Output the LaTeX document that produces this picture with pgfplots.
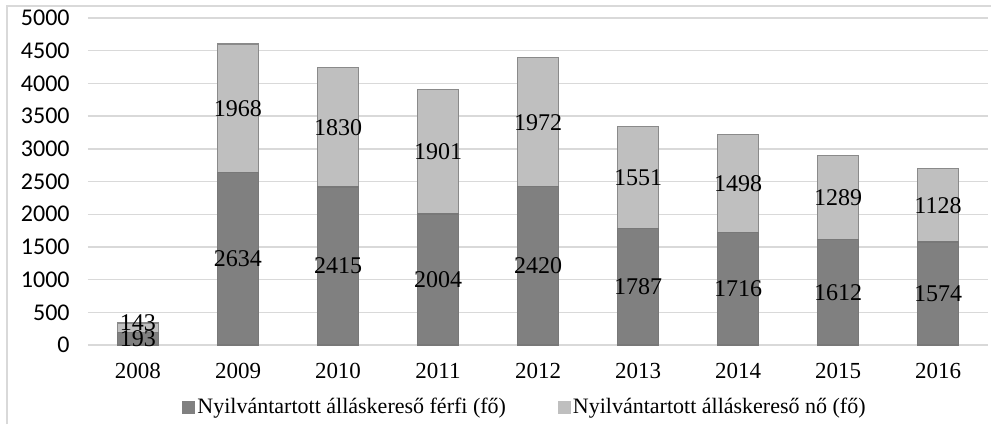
\documentclass[border=0pt]{standalone}
\usepackage{fontspec}
\setmainfont{Liberation Serif}
\newfontfamily\carlito{Carlito}
\usepackage{pgfplots}
\usepackage{pgfplotstable}
\pgfplotsset{compat=1.18}
\definecolor{malec}{HTML}{808080}
\definecolor{malee}{HTML}{787878}
\definecolor{femc}{HTML}{BFBFBF}
\definecolor{feme}{HTML}{8A8A8A}
\definecolor{gridc}{HTML}{D9D9D9}
\definecolor{framec}{HTML}{D9D9D9}
\pgfplotstableread{
x male female
0 193 143
1 2634 1968
2 2415 1830
3 2004 1901
4 2420 1972
5 1787 1551
6 1716 1498
7 1612 1289
8 1574 1128
}\datatab
\begin{document}
\begin{tikzpicture}
\path[use as bounding box] (-44pt,-39.5pt) rectangle (451.5pt,172.5pt);
\begin{axis}[
  ybar stacked,
  bar width=20.5pt,
  scale only axis,
  width=450pt, height=163.5pt,
  xmin=-0.5, xmax=8.5, ymin=0, ymax=5000,
  ytick={0,500,...,5000},
  xtick={0,...,8},
  xticklabels={2008,2009,2010,2011,2012,2013,2014,2015,2016},
  ymajorgrids,
  grid style={draw=gridc, line width=0.7pt},
  axis line style={draw=none},
  major tick length=0pt,
  yticklabel style={font=\carlito\fontsize{12}{14}\selectfont, inner sep=0pt, xshift=-9pt,
    /pgf/number format/assume math mode=true, /pgf/number format/1000 sep={}},
  xticklabel style={font=\fontsize{11.5}{13}\selectfont, inner sep=0pt, yshift=-9pt},
  point meta=rawy,
  nodes near coords,
  every node near coord/.append style={anchor=center, inner sep=0pt,
    font=\fontsize{12}{14}\selectfont, text=black,
    /pgf/number format/assume math mode=true, /pgf/number format/1000 sep={}},
  legend style={at={(0.4856,-0.19)}, anchor=center, draw=none, fill=none,
    legend columns=2, font=\fontsize{11}{13}\selectfont,
    nodes={inner sep=1pt},
    /tikz/every even column/.append style={column sep=25pt},
    inner sep=0pt},
  legend image code/.code={\fill[#1, draw=none] (0pt,-3.25pt) rectangle (6.5pt,3.25pt);},
]
\addplot[fill=malec, draw=malee, line width=0.6pt] table[x=x, y=male] {\datatab};
\addlegendentry{Nyilvántartott álláskereső férfi (fő)}
\addplot[fill=femc, draw=feme, line width=0.6pt,
  visualization depends on=rawx \as \rx,
  every node near coord/.append style={yshift={(\rx<0.5)*2.5}}] table[x=x, y=female] {\datatab};
\addlegendentry{Nyilvántartott álláskereső nő (fő)}
\end{axis}
\draw[framec, line width=0.8pt] (-40.5pt,-39.5pt) -- (-40.5pt,169.5pt) -- (451.5pt,169.5pt);
\end{tikzpicture}
\end{document}
